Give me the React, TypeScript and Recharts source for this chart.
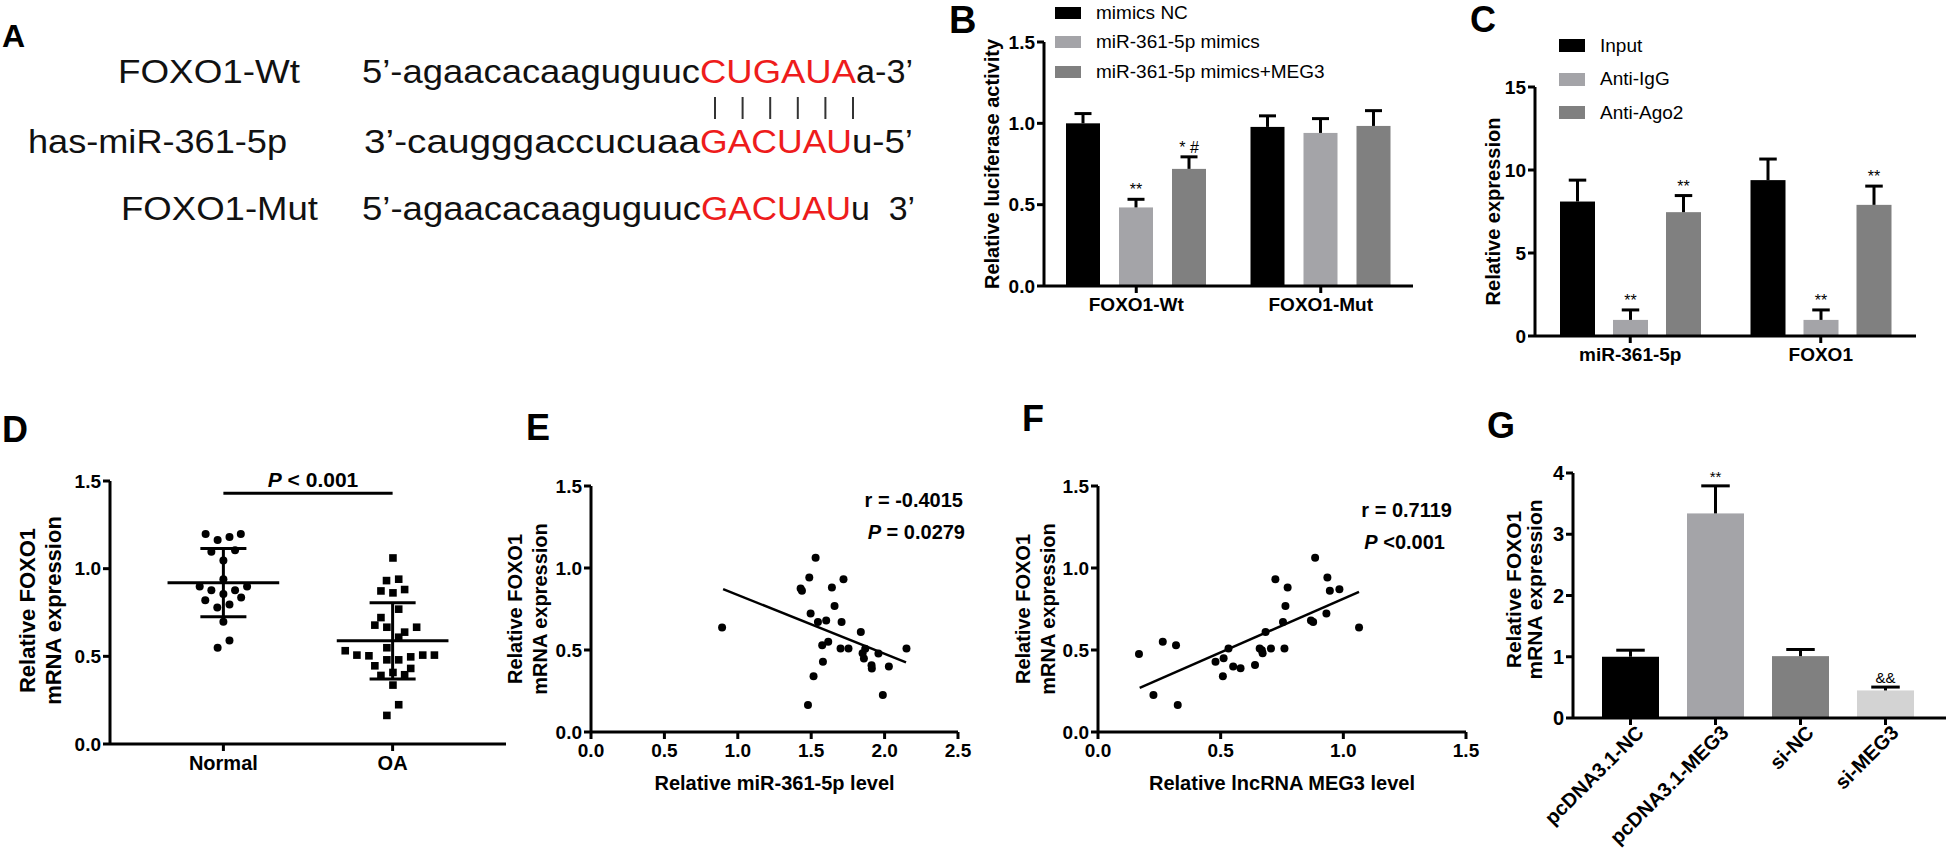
import React from "react";
import {
  BarChart,
  Bar,
  Cell,
  XAxis,
  YAxis,
  Legend,
  ScatterChart,
  Scatter,
  ReferenceLine,
} from "recharts";

const FONT = '"Liberation Sans", Arial, Helvetica, sans-serif';
const INK = "#000000";
const RED = "#ee1c1c";
const C_BLACK = "#000000";
const C_LIGHT = "#a4a4a8";
const C_DARK = "#808080";
const C_PALE = "#d3d3d3";

// A: binding site sequences
const seqLabels = ["FOXO1-Wt", "has-miR-361-5p", "FOXO1-Mut"];
const seqHead = ["5’-agaacacaaguguuc", "3’-caugggaccucuaa", "5’-agaacacaaguguuc"];
const seqSite = ["CUGAUA", "GACUAU", "GACUAU"];
const seqTail = ["a-3’", "u-5’", "u  3’"];

// B: luciferase assay
const lucGroups = ["FOXO1-Wt", "FOXO1-Mut"];
const lucNames = ["mimics NC", "miR-361-5p mimics", "miR-361-5p mimics+MEG3"];
const lucNC = [1.0, 0.978];
const lucNCsd = [0.06, 0.068];
const lucMimics = [0.483, 0.941];
const lucMimicsSd = [0.05, 0.088];
const lucMeg3 = [0.72, 0.984];
const lucMeg3Sd = [0.074, 0.094];
const lucMimicsSig = ["**", ""];
const lucMeg3Sig = ["* #", ""];

// C: RIP assay
const ripGroups = ["miR-361-5p", "FOXO1"];
const ripNames = ["Input", "Anti-IgG", "Anti-Ago2"];
const ripInput = [8.1, 9.39];
const ripInputSd = [1.29, 1.27];
const ripIgG = [0.97, 0.97];
const ripIgGSd = [0.6, 0.6];
const ripAgo2 = [7.46, 7.9];
const ripAgo2Sd = [1.0, 1.13];
const ripIgGSig = ["**", "**"];
const ripAgo2Sig = ["**", "**"];

// D: FOXO1 in Normal vs OA
const dGroups = ["Normal", "OA"];
const normalX = [0.895, 0.966, 1.036, 1.103, 0.929, 1.069, 1.0, 1.0, 0.86, 0.929, 1.0, 1.069, 1.14, 0.893, 0.964, 1.036, 1.105, 1.0, 1.036, 0.966];
const normalY = [1.198, 1.164, 1.181, 1.198, 1.097, 1.105, 1.046, 0.94, 0.898, 0.877, 0.856, 0.877, 0.898, 0.82, 0.778, 0.796, 0.835, 0.697, 0.59, 0.549];
const oaX = [2.002, 1.964, 2.036, 1.931, 2.002, 2.071, 2.036, 1.931, 1.895, 1.966, 2.071, 2.142, 2.036, 1.966, 1.72, 1.789, 1.86, 1.966, 2.036, 2.107, 2.178, 2.247, 1.895, 2.107, 1.931, 2.002, 2.071, 2.002, 2.036, 1.966];
const oaY = [1.061, 0.932, 0.94, 0.873, 0.862, 0.881, 0.769, 0.721, 0.678, 0.666, 0.638, 0.666, 0.609, 0.549, 0.532, 0.507, 0.503, 0.48, 0.48, 0.497, 0.507, 0.507, 0.446, 0.431, 0.391, 0.408, 0.395, 0.336, 0.224, 0.163];
const pBarY = 1.43;

// E: FOXO1 vs miR-361-5p
const miRx = [0.893, 1.53, 1.487, 1.428, 1.437, 1.72, 1.641, 1.659, 1.496, 1.546, 1.602, 1.707, 1.838, 1.616, 1.575, 1.7, 1.754, 1.868, 1.85, 1.859, 1.958, 2.149, 1.58, 1.911, 1.913, 2.029, 1.516, 1.988, 1.478];
const foxoE = [0.637, 1.062, 0.942, 0.875, 0.862, 0.932, 0.881, 0.769, 0.723, 0.67, 0.68, 0.67, 0.609, 0.55, 0.529, 0.509, 0.509, 0.507, 0.48, 0.448, 0.478, 0.509, 0.429, 0.407, 0.387, 0.399, 0.34, 0.226, 0.165];
const fitE = [
  { x: 0.9, y: 0.871 },
  { x: 2.146, y: 0.425 },
];

// F: FOXO1 vs MEG3
const meg3x = [0.167, 0.226, 0.264, 0.318, 0.325, 0.479, 0.512, 0.532, 0.509, 0.551, 0.581, 0.64, 0.659, 0.668, 0.671, 0.683, 0.705, 0.723, 0.773, 0.764, 0.754, 0.76, 0.885, 0.868, 0.877, 0.935, 0.945, 0.984, 0.931, 1.064];
const foxoF = [0.476, 0.226, 0.55, 0.529, 0.165, 0.429, 0.45, 0.509, 0.34, 0.399, 0.389, 0.409, 0.509, 0.499, 0.48, 0.609, 0.509, 0.932, 0.881, 0.769, 0.67, 0.509, 1.062, 0.68, 0.67, 0.942, 0.861, 0.871, 0.723, 0.637];
const fitF = [
  { x: 0.17, y: 0.269 },
  { x: 1.064, y: 0.855 },
];

// G: FOXO1 after MEG3 over-expression / knockdown
const geneGroups = ["pcDNA3.1-NC", "pcDNA3.1-MEG3", "si-NC", "si-MEG3"];
const geneMeans = [1.0, 3.34, 1.01, 0.45];
const geneSd = [0.107, 0.45, 0.108, 0.055];
const geneSig = ["", "**", "", "&&"];
const geneColors = [C_BLACK, C_LIGHT, C_DARK, C_PALE];

const lucRows = lucGroups.map((name, i) => ({
  name,
  v0: lucNC[i], e0: lucNCsd[i], s0: "",
  v1: lucMimics[i], e1: lucMimicsSd[i], s1: lucMimicsSig[i],
  v2: lucMeg3[i], e2: lucMeg3Sd[i], s2: lucMeg3Sig[i],
}));

const ripRows = ripGroups.map((name, i) => ({
  name,
  v0: ripInput[i], e0: ripInputSd[i], s0: "",
  v1: ripIgG[i], e1: ripIgGSd[i], s1: ripIgGSig[i],
  v2: ripAgo2[i], e2: ripAgo2Sd[i], s2: ripAgo2Sig[i],
}));

const geneRows = geneGroups.map((name, i) => ({
  name, v0: geneMeans[i], e0: geneSd[i], s0: geneSig[i],
}));

const pts = (xs: number[], ys: number[]) => xs.map((x, i) => ({ x, y: ys[i] }));

function meanSd(v: number[]) {
  const m = v.reduce((a, b) => a + b, 0) / v.length;
  const s = Math.sqrt(v.reduce((a, b) => a + (b - m) ** 2, 0) / (v.length - 1));
  return [m, s];
}

// bar + upper error whisker + significance mark
function barWithError(vKey: string, eKey: string, sKey: string, sigSize = 16) {
  return function BarShape(p: any) {
    const { x, y, width, height, fill, payload } = p;
    const v = payload[vKey];
    const e = payload[eKey];
    const top = y - (v > 0 ? (height / v) * e : 0);
    const cx = x + width / 2;
    const half = width * 0.25;
    const sig = payload[sKey];
    return (
      <g>
        <rect x={x} y={y} width={width} height={height} fill={fill} />
        <line x1={cx} y1={y} x2={cx} y2={top} stroke={INK} strokeWidth={3} />
        <line x1={cx - half} y1={top} x2={cx + half} y2={top} stroke={INK} strokeWidth={3} />
        {sig ? (
          <text x={cx} y={top - 4} textAnchor="middle" fontFamily={FONT} fontSize={sigSize} fill={INK}>
            {sig}
          </text>
        ) : null}
      </g>
    );
  };
}

function yTitle(lines: string[], offsets: number[], size: number, dy = 0) {
  return function YTitle(props: any) {
    const vb = props.viewBox;
    const axisX = vb.x + vb.width;
    const cy = vb.y + vb.height / 2 + dy;
    return (
      <g>
        {lines.map((t, i) => {
          const cx = axisX - offsets[i];
          return (
            <text key={t} x={cx} y={cy} transform={`rotate(-90 ${cx} ${cy})`} textAnchor="middle"
              dominantBaseline="central" fontSize={size} fontWeight={700} fontFamily={FONT} fill={INK}>
              {t}
            </text>
          );
        })}
      </g>
    );
  };
}

function xTitle(text: string, dy: number) {
  return function XTitle(props: any) {
    const vb = props.viewBox;
    return (
      <text x={vb.x + vb.width / 2} y={vb.y + dy} textAnchor="middle" fontSize={20} fontWeight={700}
        fontFamily={FONT} fill={INK}>
        {text}
      </text>
    );
  };
}

function legendBox(names: string[], colors: string[], rowH: number, boxH: number) {
  return function LegendBox() {
    return (
      <div style={{ fontFamily: FONT, fontSize: 19, color: INK, lineHeight: "20px" }}>
        {names.map((n, i) => (
          <div key={n} style={{ display: "flex", alignItems: "center", height: rowH, whiteSpace: "nowrap" }}>
            <div style={{ width: 26, height: boxH, background: colors[i], marginRight: 15 }} />
            <span>{n}</span>
          </div>
        ))}
      </div>
    );
  };
}

function SlantTick(p: any) {
  const { x, y, payload } = p;
  return (
    <text x={x} y={y} transform={`rotate(-45 ${x} ${y})`} textAnchor="end" dy="0.72em" dx={6}
      fontSize={20} fontWeight={700} fontFamily={FONT} fill={INK}>
      {payload.value}
    </text>
  );
}

const Dot = (p: any) => <circle cx={p.cx} cy={p.cy} r={4} fill={INK} />;
const Square = (p: any) => <rect x={p.cx - 3.8} y={p.cy - 3.8} width={7.6} height={7.6} fill={INK} />;

type Box = { x0: number; y0: number; x1: number; y1: number };
function frame(b: Box, l: number, t: number, r: number, btm: number) {
  return {
    style: { position: "absolute" as const, left: b.x0 - l, top: b.y0 - t },
    width: b.x1 - b.x0 + l + r,
    height: b.y1 - b.y0 + t + btm,
    margin: { top: t, right: r, left: 0, bottom: 0 },
    yw: l,
    xh: btm,
  };
}

const axisLine = { stroke: INK, strokeWidth: 3 };
const tickLine = { stroke: INK, strokeWidth: 3 };
const tickFont = { fill: INK, fontSize: 19, fontWeight: 700, fontFamily: FONT };
const one = (v: number) => v.toFixed(1);

const panelTags: [string, number, number, number][] = [
  ["A", 2, 47, 32],
  ["B", 949, 33, 38],
  ["C", 1470, 32, 36],
  ["D", 2, 442, 36],
  ["E", 526, 440, 36],
  ["F", 1022, 431, 36],
  ["G", 1487, 438, 36],
];

// sequence panel layout (page pixels)
const rowBase = [83, 153, 220];
const labelX = [118, 28, 121];
const labelW = [182, 259, 197];
const headX = [362, 364, 362];
const siteX = [700, 700, 701];
const siteEnd = [856, 852, 851];
const tailEnd = [913, 913, 915];
const pairX0 = 715;
const pairStep = 27.6;

export default function App() {
  const fB = frame({ x0: 1044, y0: 42, x1: 1413, y1: 286 }, 110, 42, 10, 40);
  const fC = frame({ x0: 1535, y0: 87, x1: 1916, y1: 336 }, 100, 87, 20, 45);
  const fD = frame({ x0: 110, y0: 481, x1: 506, y1: 744 }, 100, 21, 10, 45);
  const fE = frame({ x0: 591, y0: 486, x1: 958, y1: 732 }, 90, 16, 25, 70);
  const fF = frame({ x0: 1098, y0: 486, x1: 1466, y1: 732 }, 90, 16, 20, 70);
  const fG = frame({ x0: 1573, y0: 473, x1: 1946, y1: 718 }, 90, 18, 0, 132);

  const [nMean, nSd] = meanSd(normalY);
  const [oMean, oSd] = meanSd(oaY);
  const stats = [
    [1, nMean, nSd],
    [2, oMean, oSd],
  ];
  const meanHalf = 0.33;
  const sdHalf = 0.136;

  return (
    <div style={{ position: "absolute", left: 0, top: 0, width: 1946, height: 850, background: "#fff", fontFamily: FONT }}>
      {/* B */}
      <div style={fB.style}>
        <BarChart width={fB.width} height={fB.height} data={lucRows} margin={fB.margin} barGap={19}>
          <XAxis dataKey="name" height={fB.xh} axisLine={axisLine} tickLine={tickLine} tickSize={7} tickMargin={5}
            tick={tickFont} interval={0} />
          <YAxis width={fB.yw} domain={[0, 1.5]} ticks={[0, 0.5, 1, 1.5]} tickFormatter={one} axisLine={axisLine}
            tickLine={tickLine} tickSize={7} tickMargin={2} tick={tickFont}
            label={yTitle(["Relative luciferase activity"], [52], 20)} />
          <Legend layout="vertical" align="center" verticalAlign="middle"
            wrapperStyle={{ left: 121, top: -2, width: 320 }}
            content={legendBox(lucNames, [C_BLACK, C_LIGHT, C_DARK], 29.5, 12)} />
          <Bar dataKey="v0" name={lucNames[0]} fill={C_BLACK} barSize={34} isAnimationActive={false} shape={barWithError("v0", "e0", "s0")} />
          <Bar dataKey="v1" name={lucNames[1]} fill={C_LIGHT} barSize={34} isAnimationActive={false} shape={barWithError("v1", "e1", "s1")} />
          <Bar dataKey="v2" name={lucNames[2]} fill={C_DARK} barSize={34} isAnimationActive={false} shape={barWithError("v2", "e2", "s2")} />
        </BarChart>
      </div>

      {/* C */}
      <div style={fC.style}>
        <BarChart width={fC.width} height={fC.height} data={ripRows} margin={fC.margin} barGap={18}>
          <XAxis dataKey="name" height={fC.xh} axisLine={axisLine} tickLine={tickLine} tickSize={7} tickMargin={5}
            tick={tickFont} interval={0} />
          <YAxis width={fC.yw} domain={[0, 15]} ticks={[0, 5, 10, 15]} axisLine={axisLine} tickLine={tickLine}
            tickSize={7} tickMargin={2} tick={tickFont} label={yTitle(["Relative expression"], [42], 20)} />
          <Legend layout="vertical" align="center" verticalAlign="middle"
            wrapperStyle={{ left: 124, top: 29, width: 200 }}
            content={legendBox(ripNames, [C_BLACK, C_LIGHT, C_DARK], 33.5, 13)} />
          <Bar dataKey="v0" name={ripNames[0]} fill={C_BLACK} barSize={35} isAnimationActive={false} shape={barWithError("v0", "e0", "s0")} />
          <Bar dataKey="v1" name={ripNames[1]} fill={C_LIGHT} barSize={35} isAnimationActive={false} shape={barWithError("v1", "e1", "s1")} />
          <Bar dataKey="v2" name={ripNames[2]} fill={C_DARK} barSize={35} isAnimationActive={false} shape={barWithError("v2", "e2", "s2")} />
        </BarChart>
      </div>

      {/* D */}
      <div style={fD.style}>
        <ScatterChart width={fD.width} height={fD.height} margin={fD.margin}>
          <XAxis type="number" dataKey="x" domain={[0.33, 2.67]} allowDataOverflow ticks={[1, 2]}
            tickFormatter={(v: number) => dGroups[Math.round(v) - 1]} height={fD.xh} axisLine={axisLine}
            tickLine={tickLine} tickSize={7} tickMargin={5} tick={{ ...tickFont, fontSize: 20 }} />
          <YAxis type="number" dataKey="y" width={fD.yw} domain={[0, 1.5]} ticks={[0, 0.5, 1, 1.5]}
            tickFormatter={one} axisLine={axisLine} tickLine={tickLine} tickSize={7} tickMargin={2} tick={tickFont}
            label={yTitle(["Relative FOXO1", "mRNA expression"], [83, 57], 22, -2)} />
          <Scatter data={pts(normalX, normalY)} shape={Dot} isAnimationActive={false} />
          <Scatter data={pts(oaX, oaY)} shape={Square} isAnimationActive={false} />
          {stats.map(([g, m, s]) => (
            <React.Fragment key={g}>
              <ReferenceLine segment={[{ x: g - meanHalf, y: m }, { x: g + meanHalf, y: m }]} stroke={INK} strokeWidth={3} />
              <ReferenceLine segment={[{ x: g - sdHalf, y: m + s }, { x: g + sdHalf, y: m + s }]} stroke={INK} strokeWidth={3} />
              <ReferenceLine segment={[{ x: g - sdHalf, y: m - s }, { x: g + sdHalf, y: m - s }]} stroke={INK} strokeWidth={3} />
              <ReferenceLine segment={[{ x: g, y: m - s }, { x: g, y: m + s }]} stroke={INK} strokeWidth={3} />
            </React.Fragment>
          ))}
          <ReferenceLine segment={[{ x: 1, y: pBarY }, { x: 2, y: pBarY }]} stroke={INK} strokeWidth={3} />
        </ScatterChart>
      </div>

      {/* E */}
      <div style={fE.style}>
        <ScatterChart width={fE.width} height={fE.height} margin={fE.margin}>
          <XAxis type="number" dataKey="x" domain={[0, 2.5]} ticks={[0, 0.5, 1, 1.5, 2, 2.5]} tickFormatter={one}
            height={fE.xh} axisLine={axisLine} tickLine={tickLine} tickSize={7} tickMargin={5} tick={tickFont}
            label={xTitle("Relative miR-361-5p level", 58)} />
          <YAxis type="number" dataKey="y" width={fE.yw} domain={[0, 1.5]} ticks={[0, 0.5, 1, 1.5]}
            tickFormatter={one} axisLine={axisLine} tickLine={tickLine} tickSize={7} tickMargin={2} tick={tickFont}
            label={yTitle(["Relative FOXO1", "mRNA expression"], [76, 51], 20)} />
          <Scatter data={pts(miRx, foxoE)} shape={Dot} isAnimationActive={false} />
          <ReferenceLine segment={fitE} stroke={INK} strokeWidth={2.5} />
        </ScatterChart>
      </div>

      {/* F */}
      <div style={fF.style}>
        <ScatterChart width={fF.width} height={fF.height} margin={fF.margin}>
          <XAxis type="number" dataKey="x" domain={[0, 1.5]} ticks={[0, 0.5, 1, 1.5]} tickFormatter={one}
            height={fF.xh} axisLine={axisLine} tickLine={tickLine} tickSize={7} tickMargin={5} tick={tickFont}
            label={xTitle("Relative lncRNA MEG3 level", 58)} />
          <YAxis type="number" dataKey="y" width={fF.yw} domain={[0, 1.5]} ticks={[0, 0.5, 1, 1.5]}
            tickFormatter={one} axisLine={axisLine} tickLine={tickLine} tickSize={7} tickMargin={2} tick={tickFont}
            label={yTitle(["Relative FOXO1", "mRNA expression"], [75, 50], 20)} />
          <Scatter data={pts(meg3x, foxoF)} shape={Dot} isAnimationActive={false} />
          <ReferenceLine segment={fitF} stroke={INK} strokeWidth={2.5} />
        </ScatterChart>
      </div>

      {/* G */}
      <div style={fG.style}>
        <BarChart width={fG.width} height={fG.height} data={geneRows} margin={fG.margin}>
          <XAxis dataKey="name" height={fG.xh} axisLine={axisLine} tickLine={tickLine} tickSize={7} tickMargin={3}
            tick={SlantTick} interval={0} padding={{ left: 15, right: 18 }} />
          <YAxis width={fG.yw} domain={[0, 4]} ticks={[0, 1, 2, 3, 4]} axisLine={axisLine} tickLine={tickLine}
            tickSize={7} tickMargin={2} tick={{ ...tickFont, fontSize: 20 }}
            label={yTitle(["Relative FOXO1", "mRNA expression"], [60, 39], 21, -6)} />
          <Bar dataKey="v0" barSize={57} isAnimationActive={false} shape={barWithError("v0", "e0", "s0", 15)}>
            {geneRows.map((r, i) => (
              <Cell key={r.name} fill={geneColors[i]} />
            ))}
          </Bar>
        </BarChart>
      </div>

      {/* text overlay: panel tags, sequence panel, statistics */}
      <svg width={1946} height={850} style={{ position: "absolute", left: 0, top: 0, pointerEvents: "none" }}
        fontFamily={FONT}>
        {panelTags.map(([t, x, y, s]) => (
          <text key={t} x={x} y={y} fontSize={s} fontWeight={700} fill={INK}>
            {t}
          </text>
        ))}
        {seqLabels.map((lab, i) => (
          <g key={lab} fontSize={33}>
            <text x={labelX[i]} y={rowBase[i]} fill="#111" textLength={labelW[i]} lengthAdjust="spacingAndGlyphs">
              {lab}
            </text>
            <text x={headX[i]} y={rowBase[i]} fill="#111" textLength={siteX[i] - headX[i]} lengthAdjust="spacingAndGlyphs">
              {seqHead[i]}
            </text>
            <text x={siteX[i]} y={rowBase[i]} fill={RED} textLength={siteEnd[i] - siteX[i]} lengthAdjust="spacingAndGlyphs">
              {seqSite[i]}
            </text>
            <text x={siteEnd[i]} y={rowBase[i]} fill="#111" textLength={tailEnd[i] - siteEnd[i]}
              lengthAdjust="spacingAndGlyphs" xmlSpace="preserve">
              {seqTail[i]}
            </text>
          </g>
        ))}
        {seqSite[0].split("").map((c, i) => (
          <line key={i} x1={pairX0 + pairStep * i} y1={97} x2={pairX0 + pairStep * i} y2={119} stroke="#333" strokeWidth={2} />
        ))}
        <text x={313} y={487} textAnchor="middle" fontSize={21} fontWeight={700} fill={INK}>
          <tspan fontStyle="italic">P</tspan> &lt; 0.001
        </text>
        <text x={963} y={507} textAnchor="end" fontSize={20} fontWeight={700} fill={INK}>r = -0.4015</text>
        <text x={965} y={539} textAnchor="end" fontSize={20} fontWeight={700} fill={INK}>
          <tspan fontStyle="italic">P</tspan> = 0.0279
        </text>
        <text x={1452} y={517} textAnchor="end" fontSize={20} fontWeight={700} fill={INK}>r = 0.7119</text>
        <text x={1445} y={549} textAnchor="end" fontSize={20} fontWeight={700} fill={INK}>
          <tspan fontStyle="italic">P</tspan> &lt;0.001
        </text>
      </svg>
    </div>
  );
}
